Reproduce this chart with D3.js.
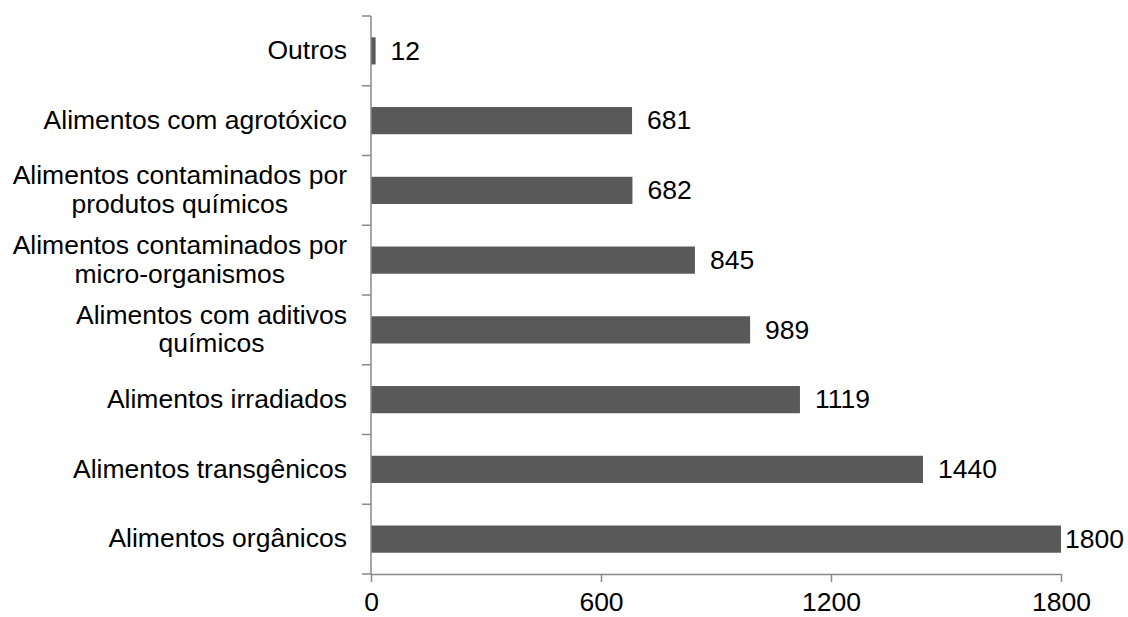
<!DOCTYPE html>
<html>
<head>
<meta charset="utf-8">
<script src="https://cdn.jsdelivr.net/npm/d3@7"></script>
<style>
  html, body { margin: 0; padding: 0; background: #ffffff; }
  svg { display: block; }
  text { font-family: "Liberation Sans", Arial, sans-serif; fill: #000000; }
</style>
</head>
<body>
<svg id="chart" width="1128" height="617"></svg>
<script>
// Categories, top to bottom, with each label split into its lines
const categories = [
  "Outros",
  "Alimentos com agrotóxico",
  "Alimentos contaminados por produtos químicos",
  "Alimentos contaminados por micro-organismos",
  "Alimentos com aditivos químicos",
  "Alimentos irradiados",
  "Alimentos transgênicos",
  "Alimentos orgânicos"
];
const labelLines = [
  ["Outros"],
  ["Alimentos com agrotóxico"],
  ["Alimentos contaminados por", "produtos químicos"],
  ["Alimentos contaminados por", "micro-organismos"],
  ["Alimentos com aditivos", "químicos"],
  ["Alimentos irradiados"],
  ["Alimentos transgênicos"],
  ["Alimentos orgânicos"]
];
const values = [12, 681, 682, 845, 989, 1119, 1440, 1800];
const xTicks = [0, 600, 1200, 1800];

const W = 1128;
const H = 617;
const margin = { top: 16, right: 67, bottom: 43, left: 371 };
const fontSize = 26.5;

const svg = d3.select("#chart");

const x = d3.scaleLinear()
  .domain([0, 1800])
  .range([margin.left, W - margin.right]);

const y = d3.scaleBand()
  .domain(categories)
  .range([margin.top, H - margin.bottom])
  .paddingInner(0.61)
  .paddingOuter(0.305);

const bandStep = y.step();
const y0 = margin.top;
const yEnd = H - margin.bottom;
const axisColor = "#898989";

// Bars
svg.append("g")
  .selectAll("rect")
  .data(values)
  .join("rect")
  .attr("x", x(0))
  .attr("y", (d, i) => y(categories[i]))
  .attr("width", d => x(d) - x(0))
  .attr("height", y.bandwidth())
  .attr("fill", "#595959");

// Vertical axis line with ticks between categories
const yAxis = svg.append("g");
yAxis.append("line")
  .attr("x1", x(0)).attr("x2", x(0))
  .attr("y1", y0).attr("y2", yEnd)
  .attr("stroke", axisColor).attr("stroke-width", 1.5);
yAxis.selectAll("line.tick")
  .data(d3.range(categories.length + 1))
  .join("line")
  .attr("class", "tick")
  .attr("x1", x(0) - 9).attr("x2", x(0))
  .attr("y1", i => y0 + i * bandStep)
  .attr("y2", i => y0 + i * bandStep)
  .attr("stroke", axisColor).attr("stroke-width", 1.5);

// Horizontal axis with tick labels
const xAxis = d3.axisBottom(x)
  .tickValues(xTicks)
  .tickSize(8)
  .tickSizeOuter(0)
  .tickPadding(10)
  .tickFormat(d3.format("d"));
const gx = svg.append("g")
  .attr("transform", `translate(0,${yEnd})`)
  .call(xAxis);
gx.select(".domain").attr("stroke", axisColor).attr("stroke-width", 1.5);
gx.selectAll(".tick line").attr("stroke", axisColor).attr("stroke-width", 1.5);
gx.selectAll(".tick text")
  .attr("font-size", fontSize)
  .attr("font-family", "Liberation Sans, Arial, sans-serif")
  .attr("fill", "#000");

// Category labels: each block centred on its own lines, right edge aligned
const labelRight = 347;
const lineGap = 28.7;
categories.forEach((c, i) => {
  const lines = labelLines[i];
  const cy = y(c) + y.bandwidth() / 2;
  const g = svg.append("g");
  const texts = lines.map((ln, k) => g.append("text")
    .attr("font-size", fontSize)
    .attr("text-anchor", "middle")
    .attr("y", cy + (k - (lines.length - 1) / 2) * lineGap)
    .attr("dy", "0.31em")
    .text(ln));
  const maxW = d3.max(texts, t => t.node().getComputedTextLength());
  texts.forEach(t => t.attr("x", labelRight - maxW / 2));
});

// Value labels next to bar ends, kept inside the canvas
values.forEach((v, i) => {
  const t = svg.append("text")
    .attr("font-size", fontSize)
    .attr("y", y(categories[i]) + y.bandwidth() / 2)
    .attr("dy", "0.33em")
    .text(v);
  const w = t.node().getComputedTextLength();
  t.attr("x", Math.min(x(v) + 15, W - 4 - w));
});
</script>
</body>
</html>
